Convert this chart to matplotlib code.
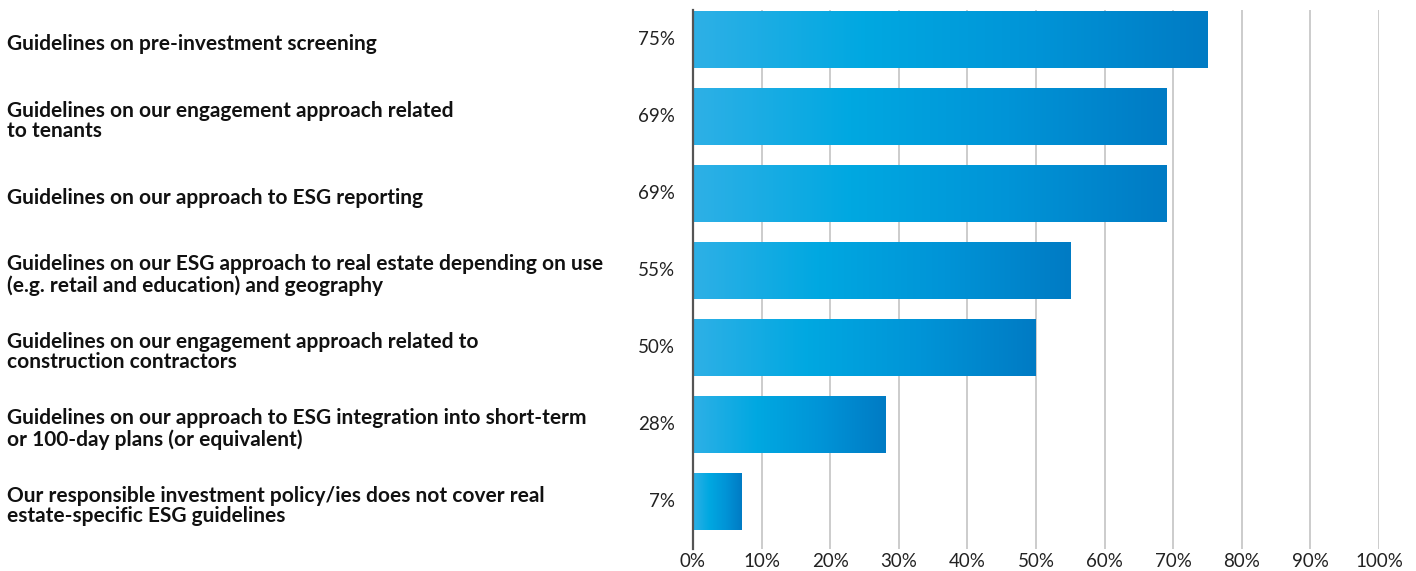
import numpy as np
import matplotlib
matplotlib.use("agg")
import matplotlib.pyplot as plt
import matplotlib.transforms as mtransforms
from matplotlib.colors import LinearSegmentedColormap

categories = [
    "Guidelines on pre-investment screening",
    "Guidelines on our engagement approach related\nto tenants",
    "Guidelines on our approach to ESG reporting",
    "Guidelines on our ESG approach to real estate depending on use\n(e.g. retail and education) and geography",
    "Guidelines on our engagement approach related to\nconstruction contractors",
    "Guidelines on our approach to ESG integration into short-term\nor 100-day plans (or equivalent)",
    "Our responsible investment policy/ies does not cover real\nestate-specific ESG guidelines",
]
values = [75, 69, 69, 55, 50, 28, 7]
ticks = [0, 10, 20, 30, 40, 50, 60, 70, 80, 90, 100]

fig = plt.figure(figsize=(14.16, 5.71), dpi=100)
ax = fig.add_axes([693 / 1416, 1 - 549 / 571, 686 / 1416, 539 / 571])
ax.set_xlim(0, 100)
ax.set_ylim(6.623, -0.377)

# label column sits in figure x, bar y
lbl = mtransforms.blended_transform_factory(fig.transFigure, ax.transData)

grad = LinearSegmentedColormap.from_list("bar", ["#2eb0e6", "#00a8e1", "#0094d7", "#007bc4"])
g = np.linspace(0, 1, 256).reshape(1, -1)
bh = 0.74
for i, v in enumerate(values):
    ax.imshow(g, cmap=grad, aspect="auto", extent=(0, v, i + bh / 2, i - bh / 2),
              zorder=3, interpolation="bilinear")
    ax.text(-2.6, i, f"{v}%", ha="right", va="center", fontsize=13.5,
            family="Lato", color="#222222")
    ax.text(7 / 1416, i + 0.065, categories[i], transform=lbl,
            ha="left", va="center", fontsize=15, family="Lato",
            fontweight="bold", color="#111111", linespacing=1.03)

for t in ticks[1:]:
    ax.axvline(t, color="#c8c8c8", lw=1.3, zorder=1)
for s in ["top", "right", "bottom"]:
    ax.spines[s].set_visible(False)
ax.spines["left"].set_color("#555555")
ax.spines["left"].set_linewidth(1.6)
ax.spines["left"].set_zorder(4)
ax.set_yticks([])
ax.set_xticks(ticks)
ax.set_xticklabels([f"{t}%" for t in ticks], fontsize=13.5, family="Lato", color="#222222")
ax.tick_params(axis="x", length=0, pad=3)

fig.savefig("out.png", dpi=100)
